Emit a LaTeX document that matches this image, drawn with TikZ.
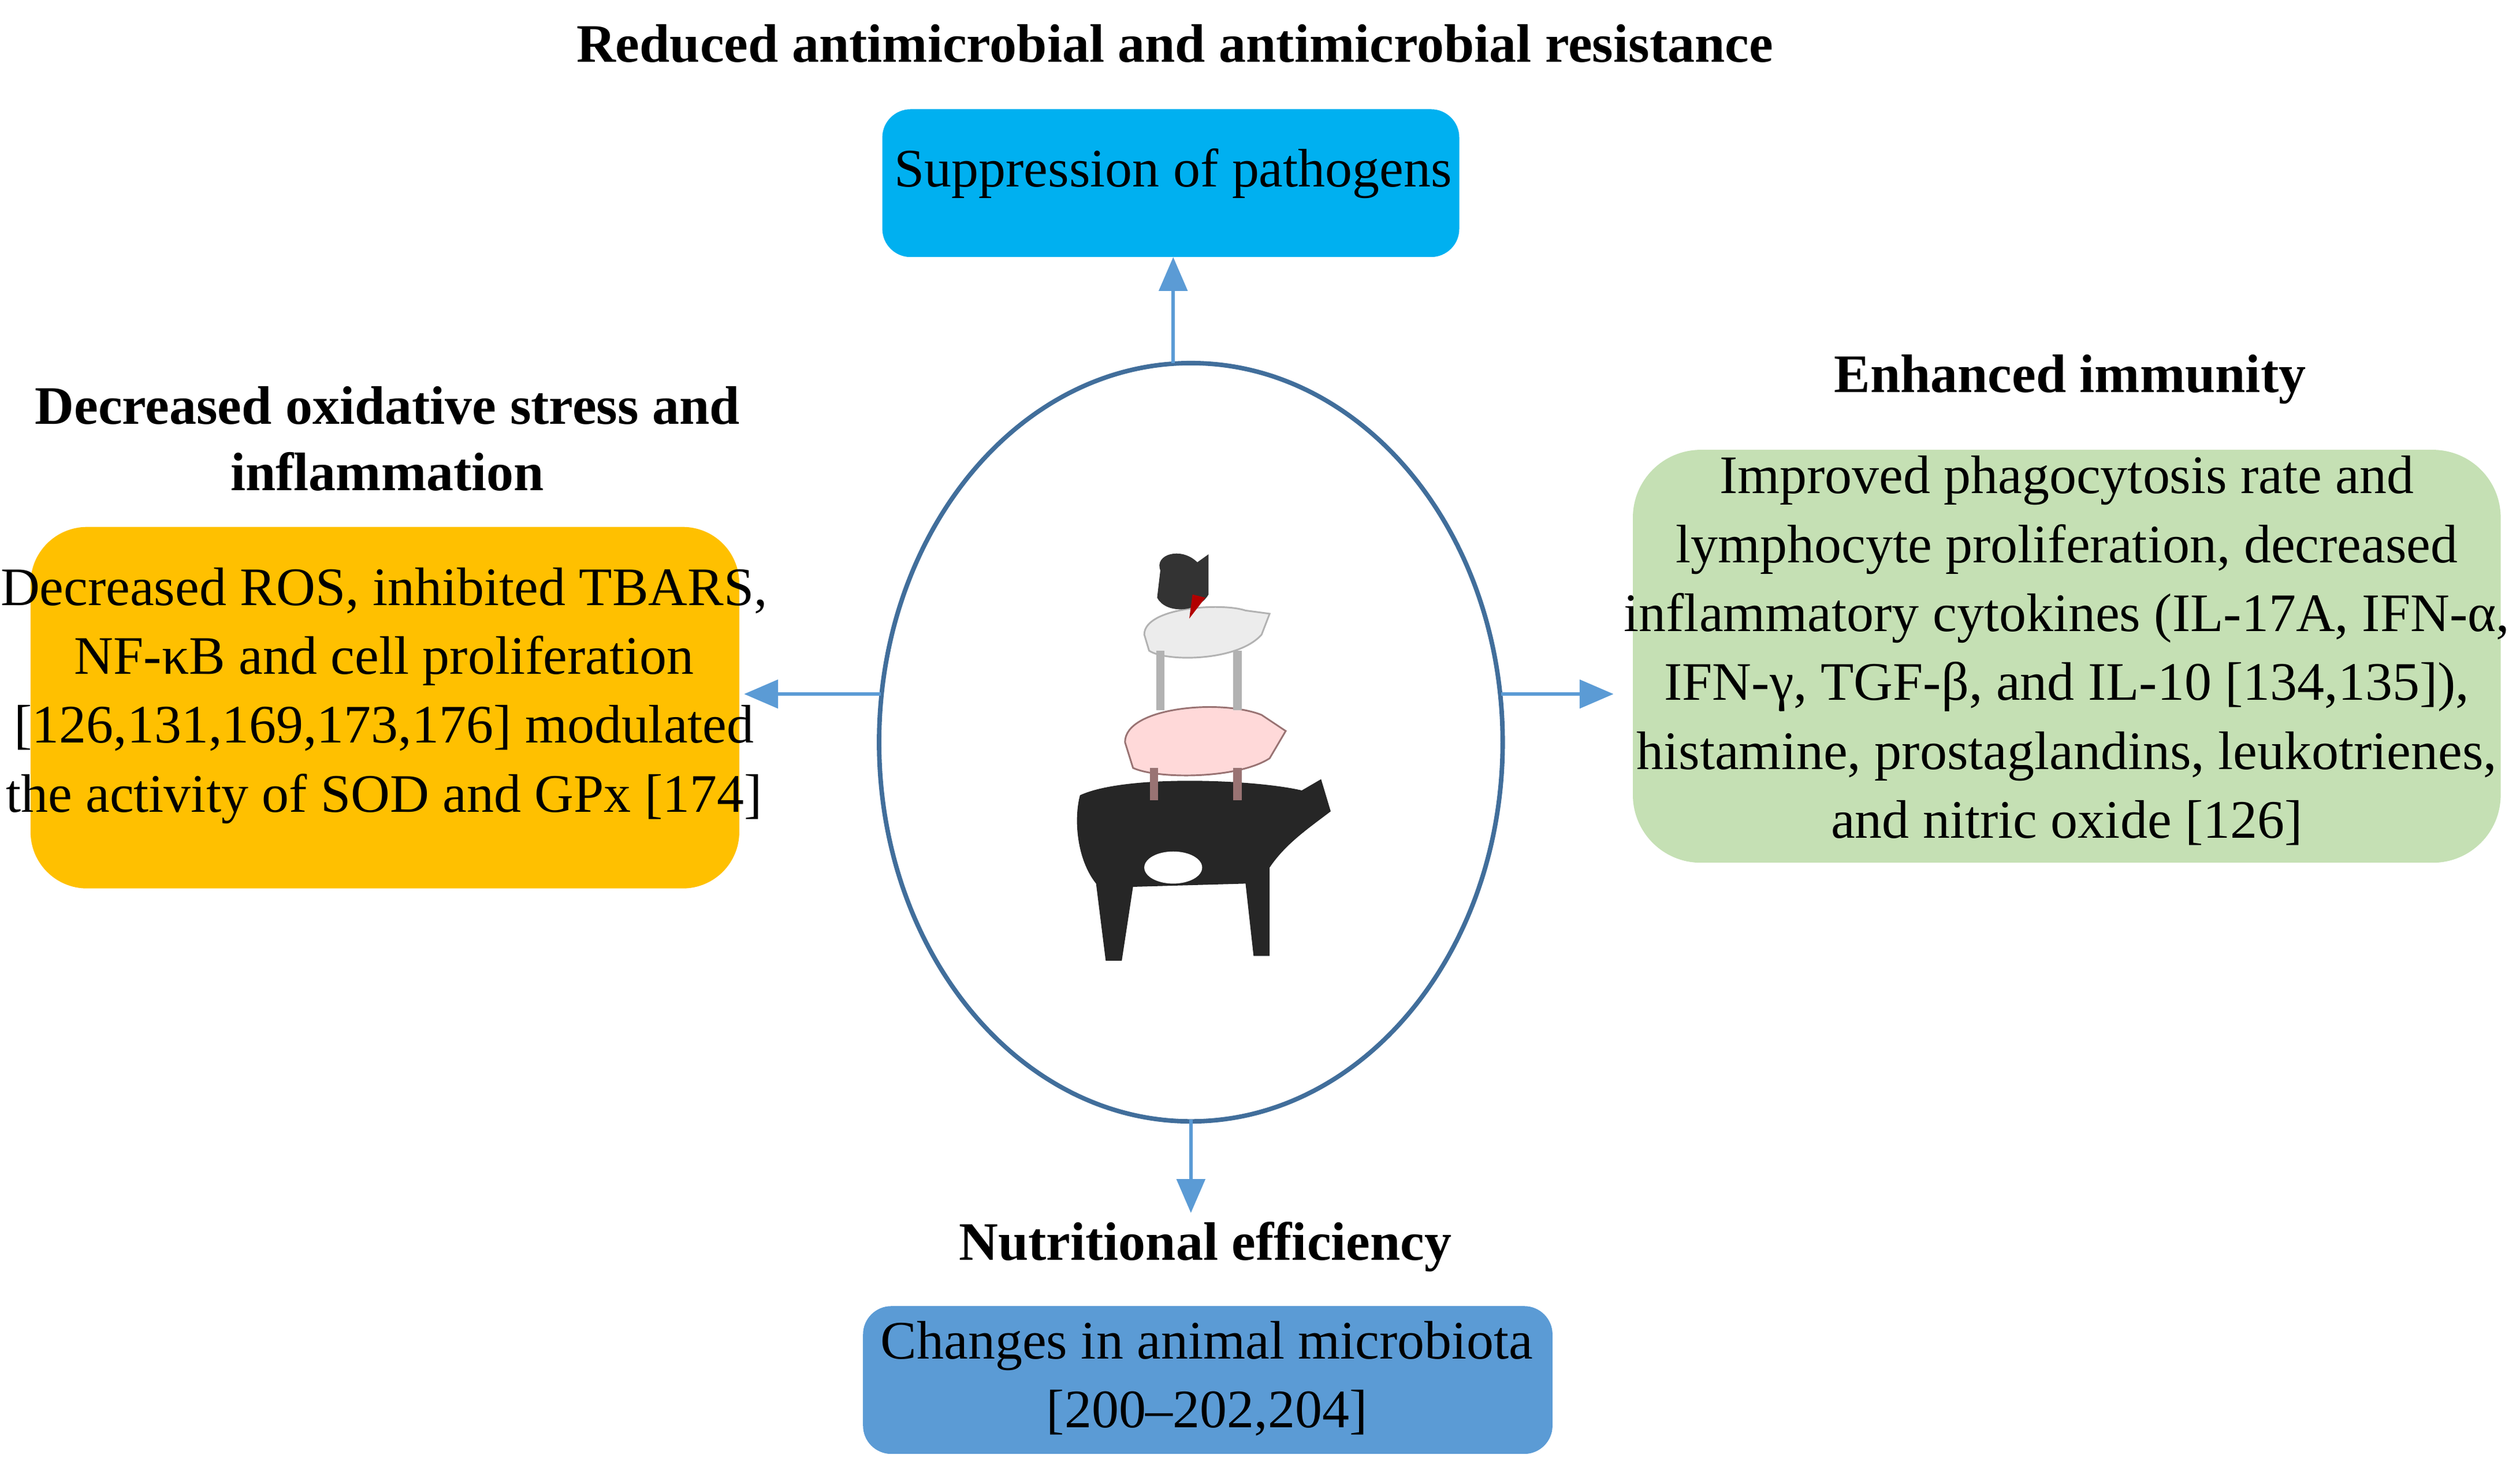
\documentclass[tikz,border=0pt]{standalone}
\usepackage{fontspec}
\setmainfont{Liberation Serif}
\usetikzlibrary{arrows.meta}
\definecolor{cyanbox}{RGB}{0,176,240}
\definecolor{orangebox}{RGB}{255,192,0}
\definecolor{greenbox}{RGB}{197,224,180}
\definecolor{bluebox}{RGB}{91,155,213}
\definecolor{arrowc}{RGB}{91,155,213}
\definecolor{ellc}{RGB}{65,110,155}
\begin{document}
\begin{tikzpicture}[x=0.01cm,y=-0.01cm,
  txt/.style={align=center,font=\fontsize{9.6}{12.2}\selectfont,inner sep=0pt},
  head/.style={font=\bfseries\fontsize{9.6}{11.7}\selectfont,align=center,inner sep=0pt},
  conn/.style={draw=arrowc,line width=0.6pt,-{Triangle[length=6pt,width=5pt]}}]
\useasboundingbox (0,0) rectangle (1568,915);
\node[head] (t1) at (731,27) {Reduced antimicrobial and antimicrobial resistance};
\fill[cyanbox,rounded corners=5pt] (549,68) rectangle (908,160);
\node[txt] (s1) at (730,108) {Suppression of pathogens};
\coordinate (b1b) at (730,160);
\draw[ellc,line width=0.8pt] (741,462) ellipse [x radius=194,y radius=236];
\coordinate (et) at (730,226);
\coordinate (el) at (548,432);
\coordinate (er) at (934,432);
\coordinate (eb) at (741,697);
\draw[conn] (et) -- (b1b);
\node[head] (t2) at (241,273) {Decreased oxidative stress and\\inflammation};
\fill[orangebox,rounded corners=10pt] (19,328) rectangle (460,553);
\node[txt] (s2) at (239,433) {Decreased ROS, inhibited TBARS,\\NF-κB and cell proliferation\\{[126,131,169,173,176]} modulated\\the activity of SOD and GPx [174]};
\coordinate (b2r) at (463,432);
\draw[conn] (el) -- (b2r);
\node[head] (t3) at (1288,236) {Enhanced immunity};
\fill[greenbox,rounded corners=12pt] (1016,280) rectangle (1556,537);
\node[txt] (s3) at (1286,405) {Improved phagocytosis rate and\\lymphocyte proliferation, decreased\\inflammatory cytokines (IL-17A, IFN-α,\\IFN-γ, TGF-β, and IL-10 [134,135]),\\histamine, prostaglandins, leukotrienes,\\and nitric oxide [126]};
\coordinate (b3l) at (1004,432);
\draw[conn] (er) -- (b3l);
\coordinate (b4t) at (741,755);
\draw[conn] (eb) -- (b4t);
\node[head] (t4) at (750,776) {Nutritional efficiency};
\fill[bluebox,rounded corners=5pt] (537,813) rectangle (966,905);
\node[txt] (s4) at (751,858) {Changes in animal microbiota\\{[200–202,204]}};
% simple animal stack
\fill[black!85] (672,495) .. controls (700,482) and (780,485) .. (810,492) -- (822,485) -- (828,505) .. controls (815,515) and (800,525) .. (790,540) -- (790,595) -- (780,595) -- (775,550) -- (705,552) -- (698,598) -- (688,598) -- (682,550) .. controls (670,535) and (668,510) .. (672,495) -- cycle;
\fill[white] (730,540) ellipse [x radius=18,y radius=10];
\fill[pink!60!white,draw=pink!60!black,line width=0.3pt] (700,462) .. controls (700,440) and (760,435) .. (785,445) -- (800,455) -- (790,472) .. controls (770,485) and (720,485) .. (705,478) -- cycle;
\draw[pink!60!black,line width=1.5pt] (718,478) -- (718,498) (770,478) -- (770,498);
\fill[gray!15,draw=gray!60,line width=0.3pt] (712,395) .. controls (712,378) and (760,375) .. (775,380) -- (790,382) -- (785,395) .. controls (770,412) and (725,412) .. (715,405) -- cycle;
\draw[gray!60,line width=1.5pt] (722,405) -- (722,442) (770,405) -- (770,442);
\fill[black!80] (722,355) .. controls (718,345) and (735,340) .. (745,350) -- (752,345) -- (752,370) .. controls (745,382) and (725,382) .. (720,372) -- cycle;
\fill[red!70!black] (740,385) -- (742,370) -- (750,372) -- cycle;
\end{tikzpicture}
\end{document}
